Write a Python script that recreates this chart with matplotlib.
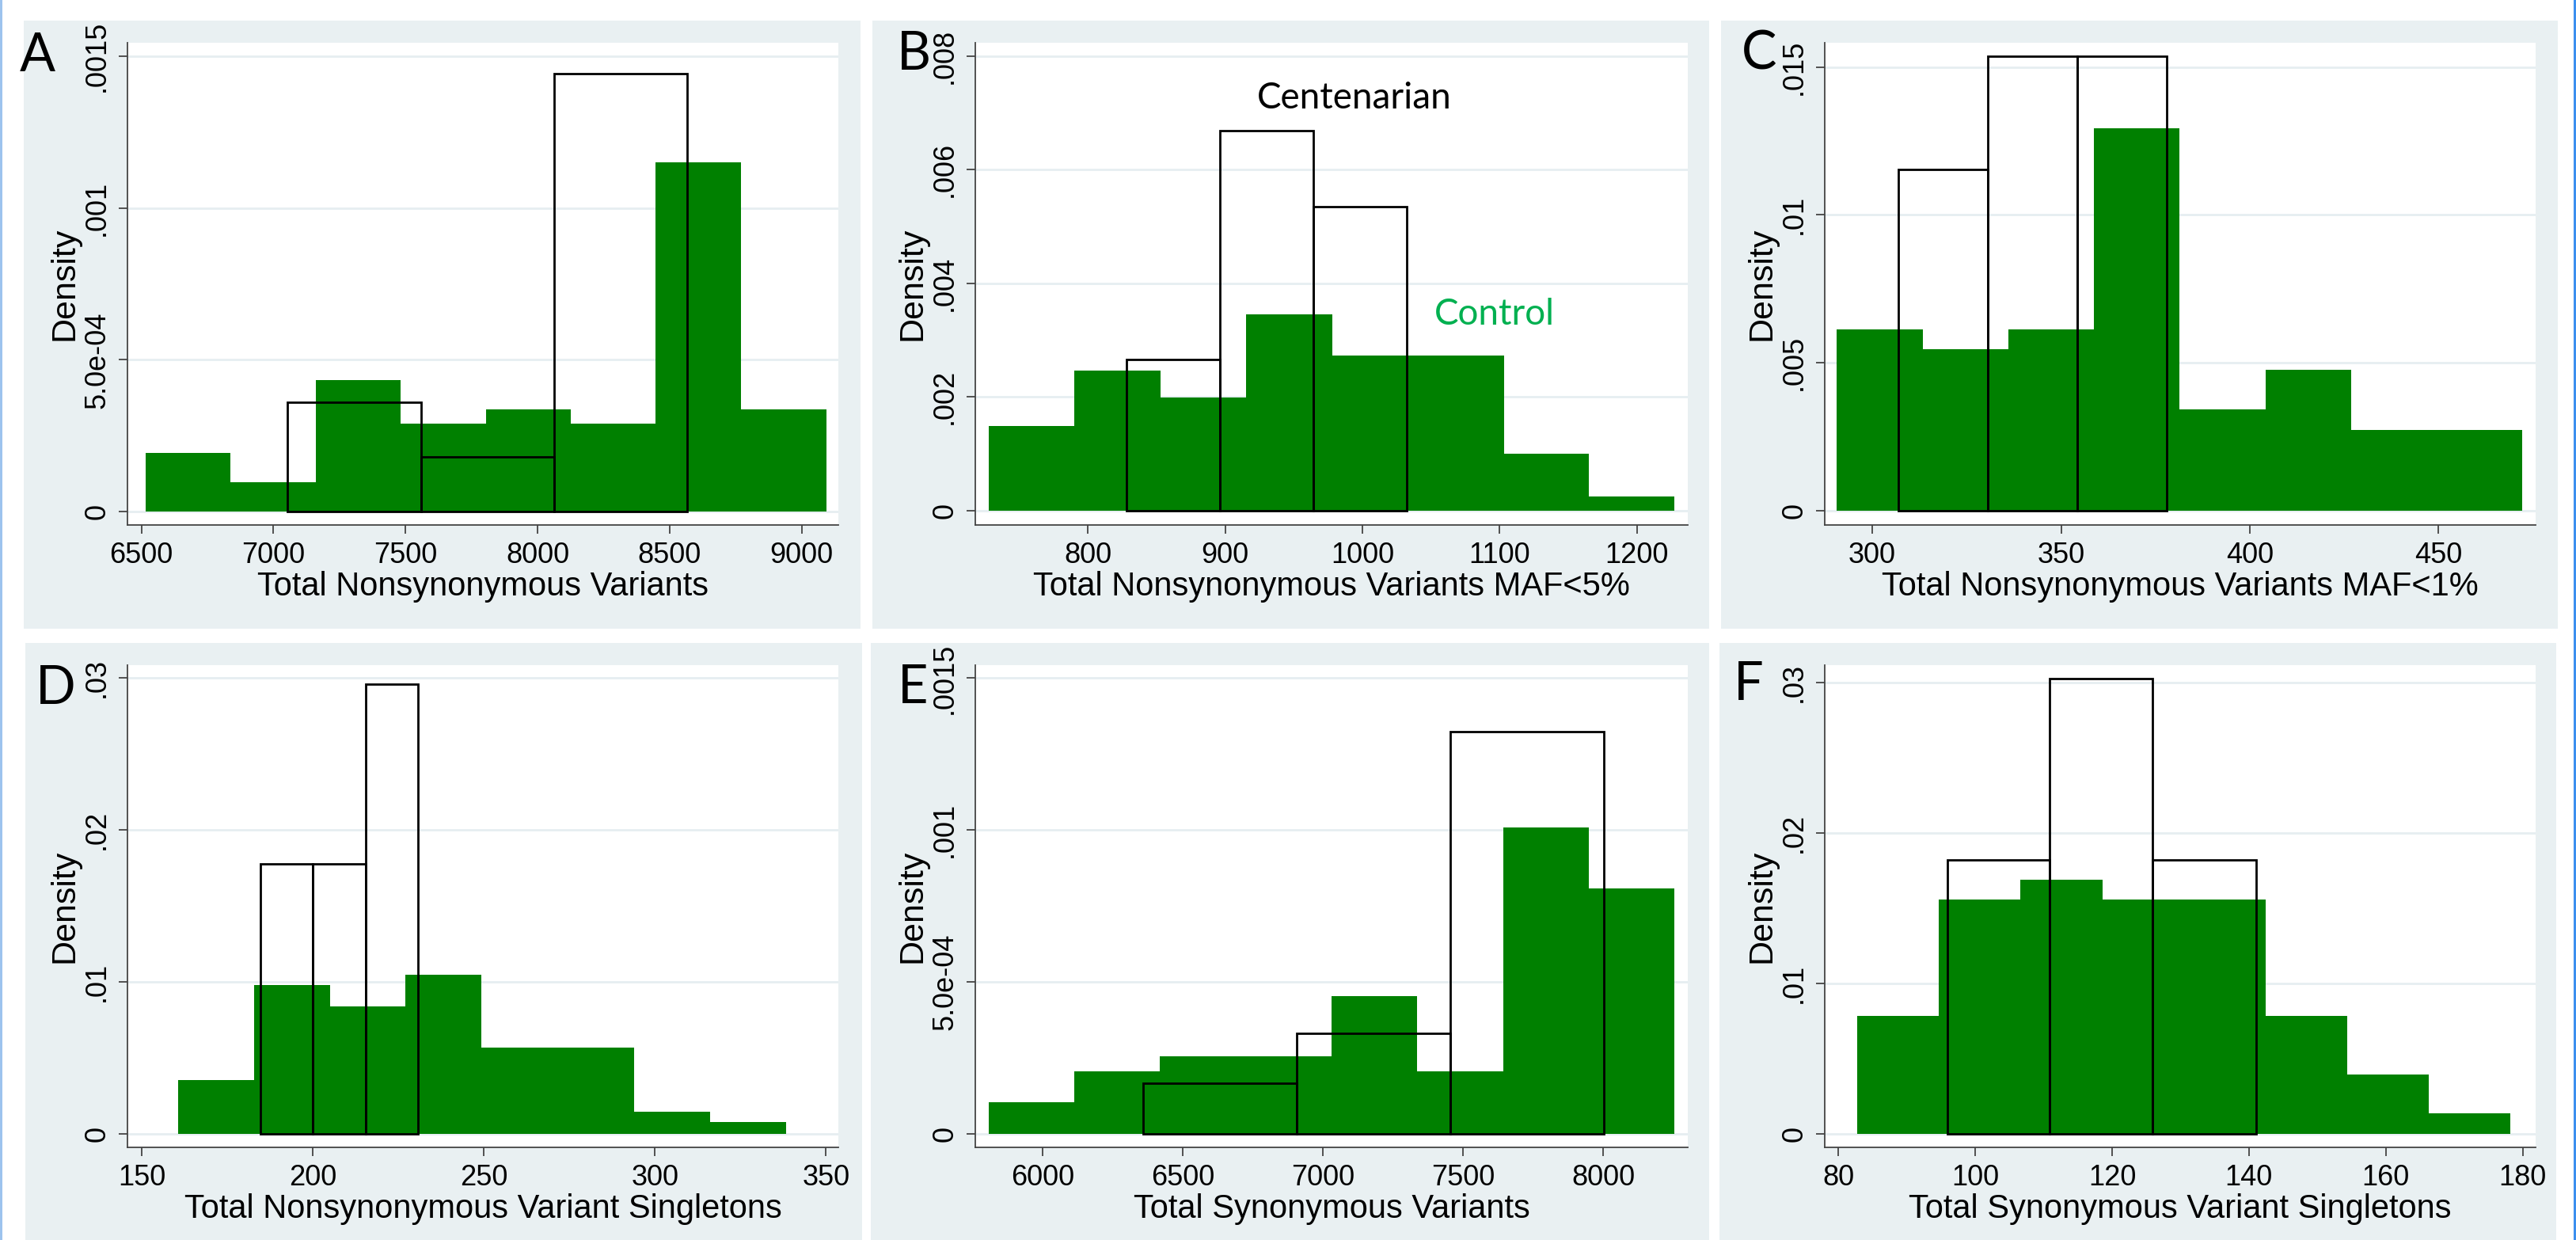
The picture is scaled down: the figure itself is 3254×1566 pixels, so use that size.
import numpy as np
import matplotlib
matplotlib.use("Agg")
import matplotlib.pyplot as plt
from matplotlib.patches import Rectangle

plt.rcParams['font.family'] = ['Liberation Sans', 'DejaVu Sans']

# ---- data (density histograms) ----
# A: total nonsynonymous variants
a_ctrl_edges = [6515, 6837, 7159, 7482, 7804, 8126, 8448, 8771, 9093]
a_ctrl_dens = [1.94e-4, 0.97e-4, 4.32e-4, 2.89e-4, 3.37e-4, 2.89e-4, 1.150e-3, 3.37e-4]
a_cent_edges = [7054, 7558, 8062, 8566]
a_cent_dens = [3.61e-4, 1.79e-4, 1.443e-3]
a_xticks = [6500, 7000, 7500, 8000, 8500, 9000]
a_yticks = [0, 0.0005, 0.001, 0.0015]
a_ylabels = ['0', '5.0e-04', '.001', '.0015']

# B: nonsynonymous MAF<5%
b_ctrl_edges = [728, 790, 853, 915, 978, 1040, 1103, 1165, 1227]
b_ctrl_dens = [1.485e-3, 2.466e-3, 1.99e-3, 3.454e-3, 2.725e-3, 2.725e-3, 1.0e-3, 2.52e-4]
b_cent_edges = [828, 896, 964, 1032]
b_cent_dens = [2.66e-3, 6.69e-3, 5.34e-3]
b_xticks = [800, 900, 1000, 1100, 1200]
b_yticks = [0, 0.002, 0.004, 0.006, 0.008]
b_ylabels = ['0', '.002', '.004', '.006', '.008']

# C: nonsynonymous MAF<1%
c_ctrl_edges = [290.6, 313.3, 336.0, 358.7, 381.4, 404.1, 426.8, 449.5, 472.2]
c_ctrl_dens = [6.13e-3, 5.45e-3, 6.13e-3, 12.93e-3, 3.43e-3, 4.77e-3, 2.72e-3, 2.72e-3]
c_cent_edges = [306.8, 330.5, 354.2, 378.0]
c_cent_dens = [11.53e-3, 15.36e-3, 15.36e-3]
c_xticks = [300, 350, 400, 450]
c_yticks = [0, 0.005, 0.01, 0.015]
c_ylabels = ['0', '.005', '.01', '.015']

# D: nonsynonymous singletons
d_ctrl_edges = [160.6, 182.8, 205.0, 227.1, 249.3, 271.5, 293.8, 316.0, 338.3]
d_ctrl_dens = [3.55e-3, 9.79e-3, 8.41e-3, 10.5e-3, 5.67e-3, 5.67e-3, 1.44e-3, 0.76e-3]
d_cent_edges = [184.6, 200.0, 215.4, 230.8]
d_cent_dens = [17.78e-3, 17.78e-3, 29.6e-3]
d_xticks = [150, 200, 250, 300, 350]
d_yticks = [0, 0.01, 0.02, 0.03]
d_ylabels = ['0', '.01', '.02', '.03']

# E: total synonymous variants
e_ctrl_edges = [5807, 6113, 6419, 6724, 7030, 7336, 7642, 7948, 8254]
e_ctrl_dens = [1.03e-4, 2.05e-4, 2.55e-4, 2.55e-4, 4.54e-4, 2.05e-4, 1.008e-3, 8.08e-4]
e_cent_edges = [6358, 6906, 7454, 8002]
e_cent_dens = [1.66e-4, 3.32e-4, 1.324e-3]
e_xticks = [6000, 6500, 7000, 7500, 8000]
e_yticks = [0, 0.0005, 0.001, 0.0015]
e_ylabels = ['0', '5.0e-04', '.001', '.0015']

# F: synonymous singletons
f_ctrl_edges = [82.8, 94.7, 106.6, 118.6, 130.5, 142.4, 154.4, 166.3, 178.2]
f_ctrl_dens = [7.86e-3, 15.58e-3, 16.9e-3, 15.58e-3, 15.58e-3, 7.86e-3, 3.93e-3, 1.34e-3]
f_cent_edges = [95.9, 110.9, 125.9, 141.0]
f_cent_dens = [18.22e-3, 30.29e-3, 18.22e-3]
f_xticks = [80, 100, 120, 140, 160, 180]
f_yticks = [0, 0.01, 0.02, 0.03]
f_ylabels = ['0', '.01', '.02', '.03']

xlabels = ['Total Nonsynonymous Variants',
           'Total Nonsynonymous Variants MAF<5%',
           'Total Nonsynonymous Variants MAF<1%',
           'Total Nonsynonymous Variant Singletons',
           'Total Synonymous Variants',
           'Total Synonymous Variant Singletons']
letters = ['A', 'B', 'C', 'D', 'E', 'F']

GREEN = '#008000'
BG = '#E9F0F2'
GRID = '#E6EEF1'
AXC = '#444444'

W, H = 3254, 1566
fig = plt.figure(figsize=(W / 100, H / 100), dpi=100, facecolor='white')


def rect_px(x0, y0, x1, y1, color, z=-2):
    fig.add_artist(Rectangle((x0 / W, 1 - y1 / H), (x1 - x0) / W, (y1 - y0) / H,
                             transform=fig.transFigure, color=color, zorder=z, lw=0))


def axes_px(x0, y0, x1, y1):
    return fig.add_axes([x0 / W, 1 - y1 / H, (x1 - x0) / W, (y1 - y0) / H])


# panel backgrounds (Stata graph region)
bg_rows = [(26, 794), (812, 1566)]
bg_cols = [[(30, 1087), (1102, 2159), (2174, 3231)],
           [(32, 1089), (1100, 2159), (2172, 3229)]]
for r in range(2):
    for x0, x1 in bg_cols[r]:
        rect_px(x0, bg_rows[r][0], x1, bg_rows[r][1], BG)

# screenshot border lines
rect_px(0, 0, 3, H, '#9DC3EE', z=5)
rect_px(3251, 0, W, H, '#3B8FEF', z=5)

plot_cols = [(161, 1059), (1232, 2132), (2305, 3203)]
plot_rows = [(54, 663), (840, 1449)]

panels = [
    (a_ctrl_edges, a_ctrl_dens, a_cent_edges, a_cent_dens, a_xticks, a_yticks, a_ylabels,
     (6447, 9139), (-4.4e-5, 1.544e-3)),
    (b_ctrl_edges, b_ctrl_dens, b_cent_edges, b_cent_dens, b_xticks, b_yticks, b_ylabels,
     (718, 1237), (-2.52e-4, 8.23e-3)),
    (c_ctrl_edges, c_ctrl_dens, c_cent_edges, c_cent_dens, c_xticks, c_yticks, c_ylabels,
     (287.4, 475.7), (-4.85e-4, 15.82e-3)),
    (d_ctrl_edges, d_ctrl_dens, d_cent_edges, d_cent_dens, d_xticks, d_yticks, d_ylabels,
     (145.8, 353.6), (-8.9e-4, 30.86e-3)),
    (e_ctrl_edges, e_ctrl_dens, e_cent_edges, e_cent_dens, e_xticks, e_yticks, e_ylabels,
     (5760, 8301), (-4.44e-5, 1.543e-3)),
    (f_ctrl_edges, f_ctrl_dens, f_cent_edges, f_cent_dens, f_xticks, f_yticks, f_ylabels,
     (78.0, 181.9), (-9.0e-4, 31.16e-3)),
]

axes = []
for i, (ce, cd, te, td, xt, yt, yl, xlim, ylim) in enumerate(panels):
    r, c = divmod(i, 3)
    ax = axes_px(plot_cols[c][0], plot_rows[r][0], plot_cols[c][1], plot_rows[r][1])
    ax.set_facecolor('white')
    ax.set_axisbelow(True)
    ax.yaxis.grid(True, color=GRID, lw=2)

    ax.bar(ce[:-1], cd, width=np.diff(ce), align='edge', color=GREEN, lw=0, zorder=2)
    ax.bar(te[:-1], td, width=np.diff(te), align='edge', fill=False,
           edgecolor='black', lw=2, zorder=3)

    ax.set_xlim(*xlim)
    ax.set_ylim(*ylim)
    ax.set_xticks(xt)
    ax.set_yticks(yt)
    ax.set_yticklabels(yl, rotation=90, va='center')

    for s in ['top', 'right']:
        ax.spines[s].set_visible(False)
    for s in ['left', 'bottom']:
        ax.spines[s].set_color(AXC)
        ax.spines[s].set_linewidth(1.3)
    ax.tick_params(direction='out', length=8, width=1.3, color=AXC, labelsize=26, pad=7)

    ax.set_xlabel(xlabels[i], fontsize=30, va='center')
    ax.xaxis.set_label_coords(0.5, -0.128)
    ax.set_ylabel('Density', fontsize=31, va='center')
    ax.yaxis.set_label_coords(-0.088, 0.5)
    axes.append(ax)

# panel letters
letter_pos = [(25, 90), (1133, 88), (2200, 88), (45, 889), (1134, 888), (2190, 884)]
for lab, (x, y) in zip(letters, letter_pos):
    fig.text(x / W, 1 - y / H, lab, family=['Lato', 'DejaVu Sans'], fontsize=48,
             ha='left', va='baseline', zorder=6)

# annotations in panel B
axes[1].text(994, 7.26e-3, 'Centenarian', family=['Lato', 'DejaVu Sans'],
             fontsize=33, ha='center', va='center', color='black')
axes[1].text(1096, 3.45e-3, 'Control', family=['Lato', 'DejaVu Sans'],
             fontsize=33, ha='center', va='center', color='#00B050')

fig.savefig('out.png', dpi=100, facecolor='white')
